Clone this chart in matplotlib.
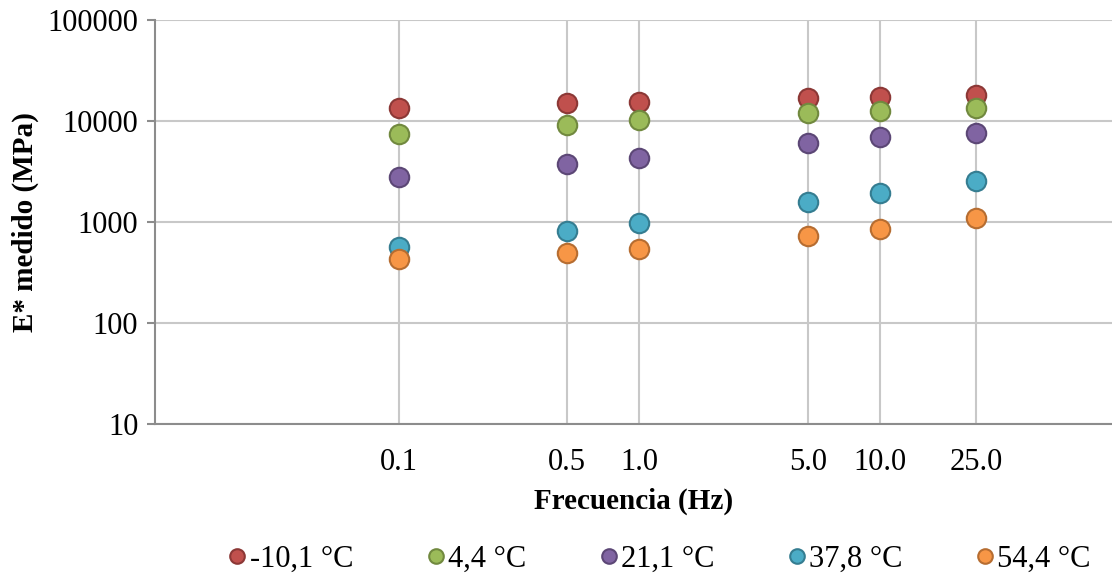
import numpy as np
import matplotlib
matplotlib.use("Agg")
import matplotlib.pyplot as plt

# frequencies (Hz) and measured E* (MPa) per test temperature
freq = [0.1, 0.5, 1.0, 5.0, 10.0, 25.0]
freq_labels = ["0.1", "0.5", "1.0", "5.0", "10.0", "25.0"]
temps = ["-10,1 °C", "4,4 °C", "21,1 °C", "37,8 °C", "54,4 °C"]

e_m10 = [13460, 15070, 15420, 16900, 17300, 18080]
e_4 = [7430, 9120, 10230, 12000, 12570, 13460]
e_21 = [2790, 3750, 4300, 6050, 6950, 7610]
e_37 = [565, 815, 977, 1580, 1940, 2550]
e_54 = [430, 493, 540, 726, 853, 1097]

fills = ["#C0504D", "#9BBB59", "#8064A2", "#4BACC6", "#F79646"]
edges = ["#8C3836", "#71893F", "#5C4776", "#357D91", "#B66D31"]

plt.rcParams['font.family'] = ['Liberation Serif', 'DejaVu Serif']

fig = plt.figure(figsize=(11.12, 5.77), dpi=100)
ax = fig.add_axes([155/1112, 1 - 424/577, 1 - 155/1112, (424 - 20)/577])

series = [e_m10, e_4, e_21, e_37, e_54]
for vals, name, fc, ec in zip(series, temps, fills, edges):
    ax.plot(freq, vals, linestyle='none', marker='o', markersize=14,
            markerfacecolor=fc, markeredgecolor=ec, markeredgewidth=1.5,
            label=name, zorder=3)

ax.set_xscale('log')
ax.set_yscale('log')
ax.set_xlim(0.00972, 91.8)
ax.set_ylim(10, 100000)

ax.set_xticks(freq)
ax.set_xticklabels(freq_labels)
ax.xaxis.set_minor_locator(matplotlib.ticker.NullLocator())
ax.set_yticks([10, 100, 1000, 10000, 100000])
ax.set_yticklabels(["10", "100", "1000", "10000", "100000"])
ax.yaxis.set_minor_locator(matplotlib.ticker.NullLocator())

ax.grid(True, color='#C8C8C8', linewidth=1.5, zorder=0)
ax.set_axisbelow(True)
for s in ['top', 'right']:
    ax.spines[s].set_visible(False)
for s in ['left', 'bottom']:
    ax.spines[s].set_color('#8C8C8C')
    ax.spines[s].set_linewidth(1.5)

ax.tick_params(axis='y', length=6, width=1.5, color='#8C8C8C', labelsize=22, pad=6)
ax.tick_params(axis='x', length=0, labelsize=22, pad=17)

ax.set_xlabel("Frecuencia (Hz)", fontsize=21, fontweight='bold', labelpad=8)
ax.set_ylabel("E* medido (MPa)", fontsize=21, fontweight='bold', labelpad=6)

leg = fig.legend(loc='center', bbox_to_anchor=(658/1112, 1 - 559/577), ncol=5,
                 frameon=False, fontsize=22, handletextpad=0.0,
                 columnspacing=2.3, markerscale=0.75, handlelength=0.8)

fig.savefig("out.png", dpi=100)
